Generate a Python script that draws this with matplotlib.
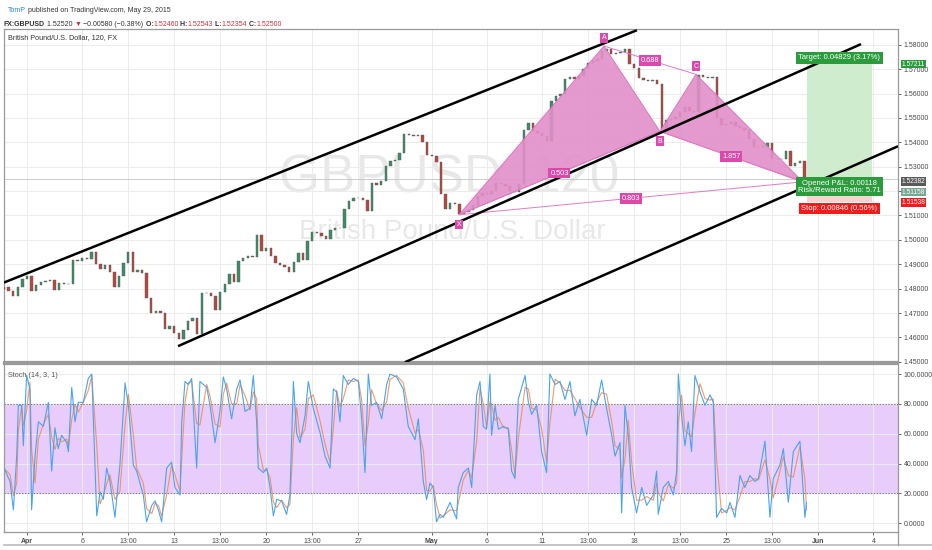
import numpy as np
import pandas as pd
import matplotlib
matplotlib.use('Agg')
import matplotlib.pyplot as plt
import matplotlib.transforms as mtransforms
from matplotlib.patches import Polygon, Rectangle

plt.rcParams['font.family'] = ['Liberation Sans', 'DejaVu Sans']

# x axis unit = trading day, 0 = Apr 1 2015
tick_days = [0, 3, 5.5, 8, 10.5, 13, 15.5, 18, 22, 25, 28, 30.5, 33, 35.5, 38, 40.5, 43, 46]
tick_labels = ['Apr', '6', '13:00', '13', '13:00', '20', '13:00', '27', 'May', '6', '11',
               '13:00', '18', '13:00', '25', '13:00', 'Jun', '4']
month_labels = ['Apr', 'May', 'Jun']

# GBPUSD closes, one bar every quarter day
bar_start = -1.25
bar_step = 0.25
first_open = 1.4800
closes = [
    1.4808, 1.4790, 1.4768, 1.4805, 1.4840, 1.4852, 1.4790, 1.4815, 1.4826, 1.4832,
    1.4836, 1.4795, 1.4823, 1.4820, 1.4818, 1.4918, 1.4915, 1.4926, 1.4922, 1.4950,
    1.4900, 1.4882, 1.4898, 1.4870, 1.4805, 1.4850, 1.4905, 1.4950, 1.4870, 1.4875,
    1.4864, 1.4760, 1.4702, 1.4710, 1.4700, 1.4635, 1.4645, 1.4620, 1.4592, 1.4630,
    1.4668, 1.4680, 1.4615, 1.4780, 1.4782, 1.4770, 1.4712, 1.4785, 1.4820, 1.4860,
    1.4828, 1.4915, 1.4925, 1.4932, 1.4930, 1.5020, 1.4955, 1.4965, 1.4935, 1.4905,
    1.4898, 1.4890, 1.4870, 1.4910, 1.4945, 1.4918, 1.4995, 1.5033, 1.5030, 1.5015,
    1.5002, 1.5040, 1.5050, 1.5048, 1.5125, 1.5160, 1.5173, 1.5170, 1.5165, 1.5118,
    1.5232, 1.5225, 1.5240, 1.5305, 1.5322, 1.5328, 1.5355, 1.5435, 1.5430, 1.5426,
    1.5430, 1.5400, 1.5348, 1.5345, 1.5320, 1.5190, 1.5125, 1.5150, 1.5148, 1.5108,
    1.5115, 1.5122, 1.5145, 1.5180, 1.5193, 1.5190, 1.5200, 1.5232, 1.5228, 1.5220,
    1.5200, 1.5195, 1.5230, 1.5450, 1.5480, 1.5445, 1.5438, 1.5425, 1.5405, 1.5570,
    1.5592, 1.5600, 1.5660, 1.5668, 1.5660, 1.5672, 1.5702, 1.5725, 1.5735, 1.5740,
    1.5775, 1.5785, 1.5762, 1.5765, 1.5770, 1.5782, 1.5722, 1.5705, 1.5665, 1.5656,
    1.5652, 1.5655, 1.5640, 1.5455, 1.5490, 1.5496, 1.5502, 1.5525, 1.5545, 1.5530,
    1.5525, 1.5675, 1.5667, 1.5662, 1.5668, 1.5500, 1.5470, 1.5475, 1.5482, 1.5468,
    1.5458, 1.5450, 1.5415, 1.5380, 1.5382, 1.5383, 1.5398, 1.5332, 1.5330, 1.5332,
    1.5365, 1.5302, 1.5317, 1.5322, 1.5250,
]
last_close = 1.52500

price_ticks = [1.45, 1.46, 1.47, 1.48, 1.49, 1.50, 1.51, 1.52, 1.53, 1.54, 1.55, 1.56, 1.57, 1.58]
hidden_price_ticks = [1.52]  # covered by the position labels on the price scale

# trend channel lines (two anchors each)
line_days = [[-1.25, 33.15], [8.21, 45.33], [20.54, 47.34]]
line_prices = [[1.4825, 1.5860], [1.4564, 1.5803], [1.4498, 1.5384]]

# harmonic pattern
pat_names = ['X', 'A', 'B', 'C', 'D']
pat_days = [23.48, 31.36, 34.40, 36.36, 42.17]
pat_prices = [1.5103, 1.5795, 1.5445, 1.5679, 1.5238]
ratio_pairs = [(0, 2), (1, 3), (2, 4), (0, 4)]
ratio_labels = ['0.503', '0.688', '1.857', '0.803']

# long position tool
entry_price = 1.52382
target_price = 1.57211
stop_price = 1.51538
pos_days = [42.39, 45.92]
target_text = 'Target: 0.04829 (3.17%)'
pnl_text = 'Opened P&L: 0.00118\nRisk/Reward Ratio: 5.71'
stop_text = 'Stop: 0.00846 (0.56%)'
axis_marks = [('1.57211', 1.57211, '#2a9c3c'), ('1.52382', 1.52382, '#5a5a5a'),
              ('1.51158', 1.5196, '#7aa592'), ('1.51538', 1.51538, '#f01c1c')]

# Stoch %K
stoch_days = [
    -1.25, -0.92, -0.74, -0.56, -0.47, -0.29, -0.20, -0.02, 0.16, 0.25,
    0.44, 0.62, 0.89, 1.16, 1.34, 1.52, 1.70, 1.88, 2.16, 2.25,
    2.43, 2.61, 2.79, 3.06, 3.33, 3.52, 3.79, 3.97, 4.15, 4.33,
    4.51, 4.78, 5.05, 5.33, 5.51, 5.78, 5.96, 6.32, 6.50, 6.78,
    6.96, 7.14, 7.32, 7.59, 7.86, 8.04, 8.32, 8.41, 8.59, 8.77,
    8.95, 9.22, 9.40, 9.77, 9.95, 10.22, 10.49, 10.67, 10.85, 11.12,
    11.40, 11.58, 11.85, 12.12, 12.30, 12.48, 12.57, 12.85, 13.03, 13.21,
    13.39, 13.57, 13.84, 14.11, 14.29, 14.48, 14.66, 14.84, 15.11, 15.29,
    15.56, 15.92, 16.20, 16.47, 16.65, 16.83, 17.01, 17.19, 17.46, 17.74,
    18.01, 18.19, 18.37, 18.55, 18.73, 19.00, 19.28, 19.55, 19.73, 20.09,
    20.45, 20.72, 21.09, 21.27, 21.54, 21.72, 21.90, 22.08, 22.26, 22.45,
    22.63, 22.99, 23.35, 23.44, 23.71, 23.99, 24.17, 24.44, 24.62, 24.80,
    24.98, 25.16, 25.25, 25.44, 25.62, 25.89, 26.16, 26.34, 26.52, 26.70,
    27.07, 27.25, 27.43, 27.70, 27.97, 28.24, 28.42, 28.70, 28.97, 29.24,
    29.51, 29.78, 30.05, 30.42, 30.69, 30.96, 31.23, 31.50, 31.78, 31.96,
    32.23, 32.32, 32.50, 32.68, 32.86, 33.13, 33.41, 33.68, 34.04, 34.22,
    34.31, 34.58, 34.86, 35.13, 35.31, 35.40, 35.58, 35.76, 35.94, 36.12,
    36.30, 36.58, 36.85, 37.12, 37.30, 37.48, 37.75, 38.03, 38.21, 38.48,
    38.75, 39.02, 39.29, 39.57, 39.75, 40.11, 40.38, 40.56, 40.92, 41.11,
    41.38, 41.65, 42.01, 42.28, 42.37,
]
stoch_k = [
    37, 28, 9, 45, 79, 79, 52, 99, 90, 9,
    45, 68, 65, 81, 35, 64, 50, 59, 54, 48,
    91, 68, 81, 81, 97, 100, 5, 21, 16, 37,
    28, 4, 39, 94, 79, 39, 35, 19, 1, 12,
    15, 9, 1, 37, 41, 24, 19, 68, 95, 93,
    97, 37, 95, 91, 79, 54, 75, 98, 90, 70,
    90, 96, 75, 77, 99, 68, 37, 34, 37, 24,
    5, 16, 15, 6, 19, 95, 60, 54, 72, 95,
    77, 61, 45, 37, 90, 88, 68, 99, 93, 97,
    95, 70, 34, 100, 79, 81, 70, 93, 100, 98,
    90, 65, 56, 70, 28, 16, 27, 24, 1, 6,
    4, 14, 3, 24, 34, 37, 24, 86, 95, 65,
    63, 100, 59, 79, 63, 65, 63, 35, 30, 83,
    99, 81, 73, 79, 48, 34, 100, 93, 95, 83,
    95, 72, 83, 59, 83, 79, 96, 77, 59, 45,
    54, 7, 79, 59, 24, 7, 24, 12, 19, 35,
    6, 24, 28, 19, 35, 100, 72, 52, 68, 48,
    99, 88, 79, 86, 81, 4, 10, 7, 14, 4,
    32, 24, 32, 28, 30, 55, 4, 30, 39, 50,
    14, 48, 55, 4, 14,
]
stoch_ticks = [0, 20, 40, 60, 80, 100]

W, H = 932, 550
fig = plt.figure(figsize=(W / 100, H / 100), dpi=100)
fig.patch.set_facecolor('white')

ax = fig.add_axes([4 / W, 1 - 362 / H, 894 / W, 333 / H])
ax2 = fig.add_axes([4 / W, 1 - 532 / H, 894 / W, 168 / H], sharex=ax)

grid_c = '#ececec'
spine_c = '#9a9a9a'
tick_c = '#4a4a4a'

for a in (ax, ax2):
    a.set_facecolor('white')
    for s in a.spines.values():
        s.set_color(spine_c)
        s.set_linewidth(0.9)
    a.yaxis.tick_right()
    a.tick_params(axis='y', labelsize=5.0, colors=tick_c, length=2, width=0.6, pad=2)
    a.set_xticks(tick_days)
    a.grid(True, color=grid_c, linewidth=0.7)
    a.set_axisbelow(True)
ax.spines['bottom'].set_linewidth(1.6)
ax2.spines['top'].set_linewidth(1.6)

ax.set_xlim(-1.25, 47.34)
ax.set_ylim(1.4499, 1.5865)
ax.set_yticks(price_ticks)
ax.set_yticklabels(['' if p in hidden_price_ticks else '%.5f' % p for p in price_ticks])
ax.tick_params(axis='x', length=0, labelbottom=False)

# watermark
ax.text(0.498, 0.553, 'GBPUSD, 120', transform=ax.transAxes, ha='center', va='center',
        fontsize=38, color='black', alpha=0.09, zorder=0)
ax.text(0.501, 0.39, 'British Pound/U.S. Dollar', transform=ax.transAxes, ha='center',
        va='center', fontsize=20, color='black', alpha=0.09, zorder=0)
ax.text(0.0045, 0.973, 'British Pound/U.S. Dollar, 120, FX', transform=ax.transAxes,
        ha='left', va='center', fontsize=5.2, color='#333333')

# last price line
ax.axhline(last_close, color='#c4c4c4', linewidth=0.6, zorder=1)

# candles
t = bar_start + bar_step * np.arange(len(closes))
c = np.array(closes)
o = np.concatenate([[first_open], c[:-1]])
up = c >= o
body = np.where(np.abs(c - o) < 0.00012, 0.00012, c - o)
ax.bar(t, body, bottom=o, width=0.13, color=np.where(up, '#3a8f66', '#b8463f'),
       edgecolor='#5a5a5a', linewidth=0.3, zorder=3)

# pattern
pt = list(zip(pat_days, pat_prices))
pink = '#e28fc9'
ax.add_patch(Polygon([pt[0], pt[1], pt[2]], closed=True, fc=pink, ec='#dd6fbd', lw=0.7, alpha=0.9, zorder=4))
ax.add_patch(Polygon([pt[2], pt[3], pt[4]], closed=True, fc=pink, ec='#dd6fbd', lw=0.7, alpha=0.9, zorder=4))
for (i, j), lab in zip(ratio_pairs, ratio_labels):
    ax.plot([pat_days[i], pat_days[j]], [pat_prices[i], pat_prices[j]], color='#e07cc4', lw=0.7, zorder=4)
    ax.text((pat_days[i] + pat_days[j]) / 2, (pat_prices[i] + pat_prices[j]) / 2, lab, fontsize=5.3,
            color='white', ha='center', va='center', zorder=7,
            bbox=dict(boxstyle='square,pad=0.25', fc='#d94aab', ec='none'))
point_offsets = {'X': -7, 'A': 6, 'B': -7, 'C': 6}
for n, d, p in zip(pat_names, pat_days, pat_prices):
    if n in point_offsets:
        ax.annotate(n, (d, p), xytext=(0, point_offsets[n]), textcoords='offset points', fontsize=5,
                    color='white', ha='center', va='center', zorder=7,
                    bbox=dict(boxstyle='square,pad=0.2', fc='#d94aab', ec='none'))

# channel lines
for dd, pp in zip(line_days, line_prices):
    ax.plot(dd, pp, color='black', lw=1.8, solid_capstyle='butt', zorder=5)

# position tool
ax.add_patch(Rectangle((pos_days[0], entry_price), pos_days[1] - pos_days[0], target_price - entry_price,
                       fc='#cfeccf', ec='none', zorder=2))
ax.add_patch(Rectangle((pos_days[0], stop_price), pos_days[1] - pos_days[0], entry_price - stop_price,
                       fc='#f8d3d3', ec='none', zorder=2))
mid = (pos_days[0] + pos_days[1]) / 2
ax.annotate(target_text, (mid, target_price), xytext=(0, 2), textcoords='offset points', fontsize=5.5,
            color='white', ha='center', va='bottom', zorder=8,
            bbox=dict(boxstyle='square,pad=0.3', fc='#2a9c3c', ec='none'))
ax.annotate(pnl_text, (mid, entry_price), xytext=(0, -3.5), textcoords='offset points', fontsize=5.5,
            color='white', ha='center', va='center', linespacing=0.95, zorder=8,
            bbox=dict(boxstyle='square,pad=0.3', fc='#2a9c3c', ec='none'))
ax.annotate(stop_text, (mid, stop_price), xytext=(0, -2), textcoords='offset points', fontsize=5.5,
            color='white', ha='center', va='top', zorder=8,
            bbox=dict(boxstyle='square,pad=0.3', fc='#f01c1c', ec='none'))

trans = mtransforms.blended_transform_factory(ax.transAxes, ax.transData)
for lab, p, col in axis_marks:
    ax.text(1.004, p, lab, transform=trans, fontsize=4.8, color='white', ha='left', va='center',
            clip_on=False, zorder=9, bbox=dict(boxstyle='square,pad=0.12', fc=col, ec='none'))

# stochastic panel
k = pd.Series(stoch_k, index=stoch_days)
d_line = k.rolling(2, min_periods=1).mean()
ax2.set_ylim(-5.8, 106.7)
ax2.axhspan(20, 80, color='#e8ccfb', zorder=0.5)
ax2.axhline(80, color='#777777', lw=0.7, ls=(0, (1.5, 1.5)), zorder=1)
ax2.axhline(20, color='#777777', lw=0.7, ls=(0, (1.5, 1.5)), zorder=1)
ax2.plot(d_line.index, d_line.values, color='#f0894e', lw=0.8, alpha=0.85, zorder=3)
ax2.plot(k.index, k.values, color='#4aa3ee', lw=0.8, zorder=3)
ax2.set_yticks(stoch_ticks)
ax2.set_yticklabels(['%.4f' % v for v in stoch_ticks])
ax2.text(0.0045, 0.934, 'Stoch (14, 3, 1)', transform=ax2.transAxes, fontsize=5.2, color='#555555',
         ha='left', va='center')
ax2.set_xticks(tick_days)
ax2.set_xticklabels(tick_labels)
ax2.tick_params(axis='x', labelsize=5.0, colors=tick_c, length=2, width=0.6, pad=2.5)
for lbl in ax2.get_xticklabels():
    if lbl.get_text() in month_labels:
        lbl.set_fontweight('bold')

# outer frame under the time axis
fig.add_artist(plt.Line2D([4 / W, 1], [1 - 545 / H, 1 - 545 / H], color='#bbbbbb', lw=1.2))
fig.add_artist(plt.Line2D([898 / W, 898 / W], [1 - 545 / H, 1 - 532 / H], color=spine_c, lw=0.9))

# header
def header(parts, x, y):
    prev = None
    for s, col, w in parts:
        if prev is None:
            prev = fig.text(x, y, s, color=col, fontweight=w, fontsize=5.0, ha='left', va='bottom')
        else:
            prev = ax.annotate(s, xy=(1, 0), xycoords=prev, color=col, fontweight=w, fontsize=5.0,
                               ha='left', va='bottom', annotation_clip=False)

red = '#d0343a'
dark = '#333333'
header([('TomP', '#2a7fd4', 'normal'), (' published on TradingView.com, May 29, 2015', dark, 'normal')],
       8 / W, 1 - 14 / H)
header([('FX:GBPUSD', dark, 'bold'), (' 1.52520 ', dark, 'normal'), ('▼', red, 'normal'),
        (' \u22120.00580 (\u22120.38%)', dark, 'normal'), (' O:', dark, 'bold'), ('1.52460', red, 'normal'),
        (' H:', dark, 'bold'), ('1.52543', red, 'normal'), (' L:', dark, 'bold'), ('1.52354', red, 'normal'),
        (' C:', dark, 'bold'), ('1.52500', red, 'normal')],
       4 / W, 1 - 28 / H)

fig.savefig('out.png', dpi=100, facecolor='white')
